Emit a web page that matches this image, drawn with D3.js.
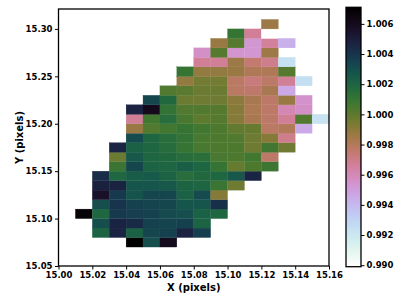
<!DOCTYPE html>
<html>
<head>
<meta charset="utf-8">
<script src="https://cdn.jsdelivr.net/npm/d3@7"></script>
<style>
  body { margin: 0; background: #fff; }
  svg text { font-family: "DejaVu Sans", sans-serif; font-weight: bold; fill: #000; }
</style>
</head>
<body>
<div id="chart"></div>
<script>
// cell left edges (x) and bottom edges (y), in pixels
const cellX = [15.01, 15.02, 15.03, 15.04, 15.05, 15.06, 15.07, 15.08, 15.09, 15.10, 15.11, 15.12, 15.13, 15.14, 15.15];
const cellY = [15.07, 15.08, 15.09, 15.10, 15.11, 15.12, 15.13, 15.14, 15.15, 15.16, 15.17, 15.18,
               15.19, 15.20, 15.21, 15.22, 15.23, 15.24, 15.25, 15.26, 15.27, 15.28, 15.29, 15.30];
const cellSize = 0.01;

// one row per cellY entry (bottom to top), one value per cellX entry, null = empty
const _ = null;
const cellValues = [
  [_, _, _, 1.0071, 1.0030, 1.0060, _, _, _, _, _, _, _, _, _],
  [_, 1.0021, 1.0047, 1.0022, 1.0033, 1.0035, 1.0047, 1.0036, _, _, _, _, _, _, _],
  [_, 1.0030, 1.0047, 1.0044, 1.0035, 1.0034, 1.0035, 1.0021, _, _, _, _, _, _, _],
  [1.0068, 1.0019, 1.0038, 1.0036, 1.0035, 1.0031, 1.0030, 1.0022, 1.0019, _, _, _, _, _, _],
  [_, 1.0030, 1.0040, 1.0035, 1.0034, 1.0033, 1.0027, 1.0027, 1.0042, _, _, _, _, _, _],
  [_, 1.0056, 1.0038, 1.0028, 1.0033, 1.0033, 1.0022, 1.0031, 0.9991, _, _, _, _, _, _],
  [_, 1.0048, 1.0047, 1.0027, 1.0027, 1.0026, 1.0021, 1.0020, 1.0009, 0.9996, _, _, _, _, _],
  [_, 1.0043, 1.0019, 1.0024, 1.0025, 1.0021, 1.0015, 1.0018, 1.0019, 1.0026, 1.0046, _, _, _, _],
  [_, _, 1.0009, 1.0033, 1.0021, 1.0020, 1.0023, 1.0020, 1.0010, 0.9998, 1.0004, 1.0008, _, _, _],
  [_, _, 0.9997, 1.0026, 1.0020, 1.0018, 1.0015, 1.0014, 1.0005, 1.0004, 1.0007, 0.9977, _, _, _],
  [_, _, 1.0046, 1.0022, 1.0020, 1.0016, 1.0010, 1.0005, 1.0004, 1.0004, 0.9996, 1.0007, 0.9996, _, _],
  [_, _, _, 1.0031, 1.0020, 1.0015, 1.0011, 1.0005, 1.0004, 1.0003, 0.9996, 0.9991, 0.9969, _, _],
  [_, _, _, 0.9987, 1.0003, 1.0007, 1.0010, 1.0007, 1.0004, 0.9999, 0.9998, 0.9978, 0.9980, 0.9945, _],
  [_, _, _, 0.9967, 1.0007, 1.0015, 1.0005, 1.0000, 1.0002, 0.9991, 0.9983, 0.9977, 0.9967, 1.0003, 0.9923],
  [_, _, _, 1.0047, 1.0061, 1.0011, 1.0003, 1.0003, 1.0002, 0.9991, 0.9982, 0.9977, 0.9961, 0.9956, _],
  [_, _, _, _, 1.0033, 1.0018, 0.9997, 0.9996, 0.9996, 0.9990, 0.9983, 0.9977, 0.9987, 0.9955, _],
  [_, _, _, _, _, 1.0003, 1.0001, 0.9997, 0.9997, 0.9978, 0.9976, 0.9983, 0.9946, _, _],
  [_, _, _, _, _, _, 0.9988, 0.9995, 0.9995, 0.9978, 0.9973, 0.9977, 0.9967, 0.9925, _],
  [_, _, _, _, _, _, 1.0010, 0.9988, 0.9988, 0.9987, 0.9981, 0.9981, 1.0002, _, _],
  [_, _, _, _, _, _, _, 0.9967, 0.9967, 0.9986, 0.9975, 0.9969, 0.9924, _, _],
  [_, _, _, _, _, _, _, 0.9956, 1.0002, 0.9954, 0.9953, 0.9986, _, _, _],
  [_, _, _, _, _, _, _, _, 0.9987, 1.0002, 0.9953, 0.9966, 0.9943, _, _],
  [_, _, _, _, _, _, _, _, _, 1.0010, 0.9967, 0.9899, _, _, _],
  [_, _, _, _, _, _, _, _, _, _, _, 0.9986, _, _, _]
];

// axis ticks
const xTicks = [15.00, 15.02, 15.04, 15.06, 15.08, 15.10, 15.12, 15.14, 15.16];
const yTicks = [15.05, 15.10, 15.15, 15.20, 15.25, 15.30];
const cbarTicks = [0.990, 0.992, 0.994, 0.996, 0.998, 1.000, 1.002, 1.004, 1.006];
const xDomain = [15.00, 15.16];
const yDomain = [15.05, 15.321];

function drawHeatmap() {
    const svg = d3.select('#chart').append('svg')
        .attr('width', 407)
        .attr('height', 305);

    const plot = { left: 58.5, right: 329, top: 9, bottom: 266 };

    const x = d3.scaleLinear().domain(xDomain).range([plot.left, plot.right]);
    const y = d3.scaleLinear().domain(yDomain).range([plot.bottom, plot.top]);

    // flatten grid into cells
    const cells = [];
    cellValues.forEach((row, j) => {
        row.forEach((v, i) => {
            if (v !== null) cells.push({ x: cellX[i], y: cellY[j], v: v });
        });
    });

    const vExtent = d3.extent(cells, d => d.v);
    // cubehelix reversed: low = white, high = black
    const color = v => d3.interpolateCubehelixDefault(1 - (v - vExtent[0]) / (vExtent[1] - vExtent[0]));

    svg.append('g')
        .selectAll('rect')
        .data(cells)
        .enter()
        .append('rect')
        .attr('x', d => x(d.x))
        .attr('y', d => y(d.y + cellSize))
        .attr('width', d => x(d.x + cellSize) - x(d.x))
        .attr('height', d => y(d.y) - y(d.y + cellSize))
        .attr('fill', d => color(d.v))
        .attr('stroke', d => color(d.v))
        .attr('stroke-width', 0.3);

    // axes
    const xAxis = svg.append('g')
        .attr('transform', `translate(0,${plot.bottom})`)
        .call(d3.axisBottom(x).tickValues(xTicks).tickFormat(d3.format('.2f')).tickSizeOuter(0).tickSize(3.5).tickPadding(2));
    const yAxis = svg.append('g')
        .attr('transform', `translate(${plot.left},0)`)
        .call(d3.axisLeft(y).tickValues(yTicks).tickFormat(d3.format('.2f')).tickSizeOuter(0).tickSize(3.5).tickPadding(2.5));

    [xAxis, yAxis].forEach(a => {
        a.select('.domain').remove();
        a.selectAll('.tick line').attr('stroke', '#000').attr('stroke-width', 1);
        a.selectAll('.tick text').style('font-size', '8.5px').style('font-family', '"DejaVu Sans", sans-serif');
    });

    // frame
    svg.append('rect')
        .attr('x', plot.left)
        .attr('y', plot.top)
        .attr('width', plot.right - plot.left)
        .attr('height', plot.bottom - plot.top)
        .attr('fill', 'none')
        .attr('stroke', '#000')
        .attr('stroke-width', 1.3);

    // axis labels
    svg.append('text')
        .attr('x', (plot.left + plot.right) / 2)
        .attr('y', 290.5)
        .attr('text-anchor', 'middle')
        .style('font-size', '10px')
        .text('X (pixels)');

    svg.append('text')
        .attr('transform', `translate(22.5,${(plot.top + plot.bottom) / 2}) rotate(-90)`)
        .attr('text-anchor', 'middle')
        .style('font-size', '10px')
        .text('Y (pixels)');

    drawColorbar(svg, vExtent);
}

function drawColorbar(svg, vExtent) {
    const bar = { left: 346, right: 361, top: 7.3, bottom: 266.7 };
    const cy = d3.scaleLinear().domain(vExtent).range([bar.bottom, bar.top]);

    const grad = svg.append('defs').append('linearGradient')
        .attr('id', 'cbar-grad')
        .attr('x1', 0).attr('y1', 1)
        .attr('x2', 0).attr('y2', 0);

    d3.range(0, 1.0001, 0.02).forEach(t => {
        grad.append('stop')
            .attr('offset', t)
            .attr('stop-color', d3.interpolateCubehelixDefault(1 - t));
    });

    svg.append('rect')
        .attr('x', bar.left)
        .attr('y', bar.top)
        .attr('width', bar.right - bar.left)
        .attr('height', bar.bottom - bar.top)
        .attr('fill', 'url(#cbar-grad)')
        .attr('stroke', '#000')
        .attr('stroke-width', 1.3);

    const axis = svg.append('g')
        .attr('transform', `translate(${bar.right},0)`)
        .call(d3.axisRight(cy).tickValues(cbarTicks).tickFormat(d3.format('.3f')).tickSizeOuter(0).tickSize(3.5).tickPadding(2));

    axis.select('.domain').remove();
    axis.selectAll('.tick line').attr('stroke', '#000').attr('stroke-width', 1);
    axis.selectAll('.tick text').style('font-size', '8.5px').style('font-family', '"DejaVu Sans", sans-serif');
}

drawHeatmap();
</script>
</body>
</html>
